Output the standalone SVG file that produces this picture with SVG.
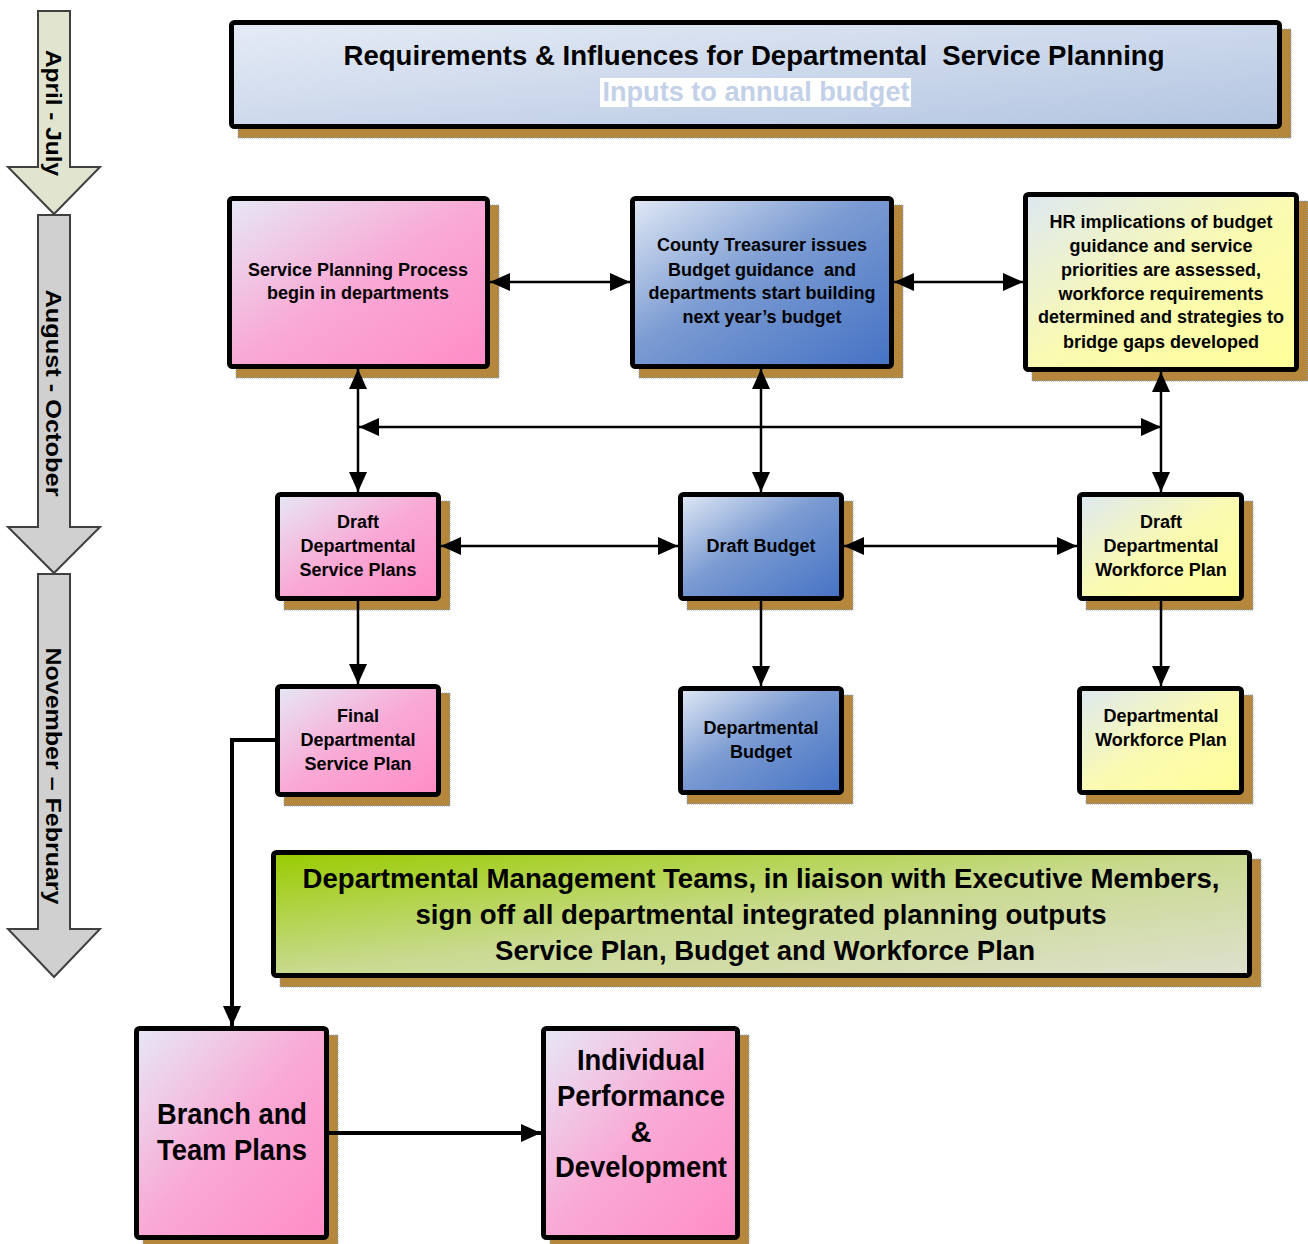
<svg xmlns="http://www.w3.org/2000/svg" width="1308" height="1244" viewBox="0 0 1308 1244">
<style>
.box{stroke:#000;stroke-width:5}
.sh{fill:#b5873d;stroke:#7fa6de;stroke-width:1;stroke-dasharray:1 1}
.t{font-family:"Liberation Sans",Arial,sans-serif;font-weight:bold;fill:#000;text-anchor:middle;white-space:pre}
.s18{font-size:18px}
.s28{font-size:28px}
.s29{font-size:29px}
.side{stroke:#404040;stroke-width:2}
.c{fill:none;stroke:#000;stroke-width:2.5}
.ck{fill:none;stroke:#000;stroke-width:4}
</style>
<defs>
<linearGradient id="gPink" x1="0" y1="0" x2="1" y2="1">
<stop offset="0" stop-color="#e6e8f6"/><stop offset="0.5" stop-color="#f9a9d5"/><stop offset="1" stop-color="#ff8cc6"/>
</linearGradient>
<linearGradient id="gBlue" x1="0" y1="0" x2="1" y2="1">
<stop offset="0" stop-color="#e1e9f5"/><stop offset="0.45" stop-color="#7b9bd2"/><stop offset="1" stop-color="#4472c4"/>
</linearGradient>
<linearGradient id="gYel" x1="0" y1="0" x2="1" y2="1">
<stop offset="0" stop-color="#dde8f2"/><stop offset="0.5" stop-color="#fafab2"/><stop offset="1" stop-color="#ffff99"/>
</linearGradient>
<linearGradient id="gGreen" x1="0" y1="0" x2="1" y2="1">
<stop offset="0" stop-color="#99cc00"/><stop offset="0.5" stop-color="#c9da90"/><stop offset="1" stop-color="#dfe0cf"/>
</linearGradient>
<linearGradient id="gTitle" x1="0" y1="0" x2="1" y2="1">
<stop offset="0" stop-color="#e6ecf6"/><stop offset="1" stop-color="#b3c5e1"/>
</linearGradient>
<marker id="ah" markerUnits="userSpaceOnUse" markerWidth="20" markerHeight="18" refX="20" refY="9" orient="auto-start-reverse">
<path d="M0,0 L20,9 L0,18 Z" fill="#000"/>
</marker>
</defs>

<g id="timeline">
<path class="side" fill="#e1e5d0" d="M38,11 H70 V167 H100 L54,214 L8,167 H38 Z"/>
<path class="side" fill="#d0d0d0" d="M38,215 H70 V527 H100 L54,573 L8,527 H38 Z"/>
<path class="side" fill="#d0d0d0" d="M38,574 H70 V929 H100 L54,977 L8,929 H38 Z"/>
<text class="t" font-size="22" transform="translate(46,113) rotate(90)" textLength="126" lengthAdjust="spacingAndGlyphs">April - July</text>
<text class="t" font-size="22" transform="translate(46,393) rotate(90)" textLength="207" lengthAdjust="spacingAndGlyphs">August - October</text>
<text class="t" font-size="22" transform="translate(46,776) rotate(90)" textLength="257" lengthAdjust="spacingAndGlyphs">November – February</text>
</g>

<g id="title">
<rect class="sh" x="238" y="29" width="1053" height="109"/>
<rect class="box" x="231.5" y="22.5" width="1048" height="104" rx="3" fill="url(#gTitle)"/>
<text class="t s28" x="754" y="65" textLength="821" lengthAdjust="spacingAndGlyphs">Requirements &amp; Influences for Departmental  Service Planning</text>
<rect x="600" y="78" width="311" height="29" fill="#fff"/>
<text class="t s28" x="756" y="101" style="fill:#c3d1e8" textLength="307" lengthAdjust="spacingAndGlyphs">Inputs to annual budget</text>
</g>

<g id="service-planning">
<rect class="sh" x="236" y="205" width="263" height="173"/>
<rect class="box" x="229.5" y="198.5" width="258" height="168" rx="3" fill="url(#gPink)"/>
<text class="t s18" x="358" y="276">Service Planning Process</text>
<text class="t s18" x="358" y="299">begin in departments</text>
</g>

<g id="county-treasurer">
<rect class="sh" x="639" y="205" width="264" height="173"/>
<rect class="box" x="632.5" y="198.5" width="259" height="168" rx="3" fill="url(#gBlue)"/>
<text class="t s18" x="762" y="251">County Treasurer issues</text>
<text class="t s18" x="762" y="276">Budget guidance  and</text>
<text class="t s18" x="762" y="299">departments start building</text>
<text class="t s18" x="762" y="323">next year’s budget</text>
</g>

<g id="hr-implications">
<rect class="sh" x="1032" y="201" width="276" height="180"/>
<rect class="box" x="1025.5" y="194.5" width="271" height="175" rx="3" fill="url(#gYel)"/>
<text class="t s18" x="1161" y="228">HR implications of budget</text>
<text class="t s18" x="1161" y="252">guidance and service</text>
<text class="t s18" x="1161" y="276">priorities are assessed,</text>
<text class="t s18" x="1161" y="300">workforce requirements</text>
<text class="t s18" x="1161" y="323">determined and strategies to</text>
<text class="t s18" x="1161" y="348">bridge gaps developed</text>
</g>

<g id="draft-service-plans">
<rect class="sh" x="284" y="501" width="166" height="109"/>
<rect class="box" x="277.5" y="494.5" width="161" height="104" rx="3" fill="url(#gPink)"/>
<text class="t s18" x="358" y="528">Draft</text>
<text class="t s18" x="358" y="552">Departmental</text>
<text class="t s18" x="358" y="576">Service Plans</text>
</g>

<g id="draft-budget">
<rect class="sh" x="687" y="501" width="166" height="109"/>
<rect class="box" x="680.5" y="494.5" width="161" height="104" rx="3" fill="url(#gBlue)"/>
<text class="t s18" x="761" y="552">Draft Budget</text>
</g>

<g id="draft-workforce-plan">
<rect class="sh" x="1086" y="501" width="167" height="109"/>
<rect class="box" x="1079.5" y="494.5" width="162" height="104" rx="3" fill="url(#gYel)"/>
<text class="t s18" x="1161" y="528">Draft</text>
<text class="t s18" x="1161" y="552">Departmental</text>
<text class="t s18" x="1161" y="576">Workforce Plan</text>
</g>

<g id="final-service-plan">
<rect class="sh" x="284" y="693" width="166" height="113"/>
<rect class="box" x="277.5" y="686.5" width="161" height="108" rx="3" fill="url(#gPink)"/>
<text class="t s18" x="358" y="722">Final</text>
<text class="t s18" x="358" y="746">Departmental</text>
<text class="t s18" x="358" y="770">Service Plan</text>
</g>

<g id="departmental-budget">
<rect class="sh" x="687" y="695" width="166" height="109"/>
<rect class="box" x="680.5" y="688.5" width="161" height="104" rx="3" fill="url(#gBlue)"/>
<text class="t s18" x="761" y="734">Departmental</text>
<text class="t s18" x="761" y="758">Budget</text>
</g>

<g id="departmental-workforce-plan">
<rect class="sh" x="1086" y="695" width="167" height="109"/>
<rect class="box" x="1079.5" y="688.5" width="162" height="104" rx="3" fill="url(#gYel)"/>
<text class="t s18" x="1161" y="722">Departmental</text>
<text class="t s18" x="1161" y="746">Workforce Plan</text>
</g>

<g id="sign-off">
<rect class="sh" x="280" y="859" width="981" height="128"/>
<rect class="box" x="273.5" y="852.5" width="976" height="123" rx="3" fill="url(#gGreen)"/>
<text class="t s28" x="761" y="888" textLength="917" lengthAdjust="spacingAndGlyphs">Departmental Management Teams, in liaison with Executive Members,</text>
<text class="t s28" x="761" y="924" textLength="691" lengthAdjust="spacingAndGlyphs">sign off all departmental integrated planning outputs</text>
<text class="t s28" x="765" y="960" textLength="540" lengthAdjust="spacingAndGlyphs">Service Plan, Budget and Workforce Plan</text>
</g>

<g id="branch-team-plans">
<rect class="sh" x="143" y="1035" width="195" height="214"/>
<rect class="box" x="136.5" y="1028.5" width="190" height="209" rx="3" fill="url(#gPink)"/>
<text class="t s29" x="232" y="1124" textLength="150" lengthAdjust="spacingAndGlyphs">Branch and</text>
<text class="t s29" x="232" y="1160" textLength="150" lengthAdjust="spacingAndGlyphs">Team Plans</text>
</g>

<g id="individual-performance">
<rect class="sh" x="550" y="1035" width="199" height="214"/>
<rect class="box" x="543.5" y="1028.5" width="194" height="209" rx="3" fill="url(#gPink)"/>
<text class="t s29" x="641" y="1070" textLength="128" lengthAdjust="spacingAndGlyphs">Individual</text>
<text class="t s29" x="641" y="1106" textLength="168" lengthAdjust="spacingAndGlyphs">Performance</text>
<text class="t s29" x="641" y="1142">&amp;</text>
<text class="t s29" x="641" y="1177" textLength="172" lengthAdjust="spacingAndGlyphs">Development</text>
</g>

<g id="connectors">
<line class="c" x1="490" y1="282" x2="630" y2="282" marker-start="url(#ah)" marker-end="url(#ah)"/>
<line class="c" x1="894" y1="282" x2="1023" y2="282" marker-start="url(#ah)" marker-end="url(#ah)"/>
<line class="c" x1="359" y1="427" x2="1161" y2="427" marker-start="url(#ah)" marker-end="url(#ah)"/>
<line class="c" x1="358" y1="369" x2="358" y2="492" marker-start="url(#ah)" marker-end="url(#ah)"/>
<line class="c" x1="761" y1="369" x2="761" y2="492" marker-start="url(#ah)" marker-end="url(#ah)"/>
<line class="c" x1="1161" y1="372" x2="1161" y2="492" marker-start="url(#ah)" marker-end="url(#ah)"/>
<line class="c" x1="441" y1="546" x2="678" y2="546" marker-start="url(#ah)" marker-end="url(#ah)"/>
<line class="c" x1="844" y1="546" x2="1077" y2="546" marker-start="url(#ah)" marker-end="url(#ah)"/>
<line class="c" x1="358" y1="601" x2="358" y2="684" marker-end="url(#ah)"/>
<line class="c" x1="761" y1="601" x2="761" y2="686" marker-end="url(#ah)"/>
<line class="c" x1="1161" y1="601" x2="1161" y2="686" marker-end="url(#ah)"/>
<polyline class="ck" points="275,740 232,740 232,1026" marker-end="url(#ah)"/>
<line class="ck" x1="329" y1="1133" x2="541" y2="1133" marker-end="url(#ah)"/>
</g>
</svg>
